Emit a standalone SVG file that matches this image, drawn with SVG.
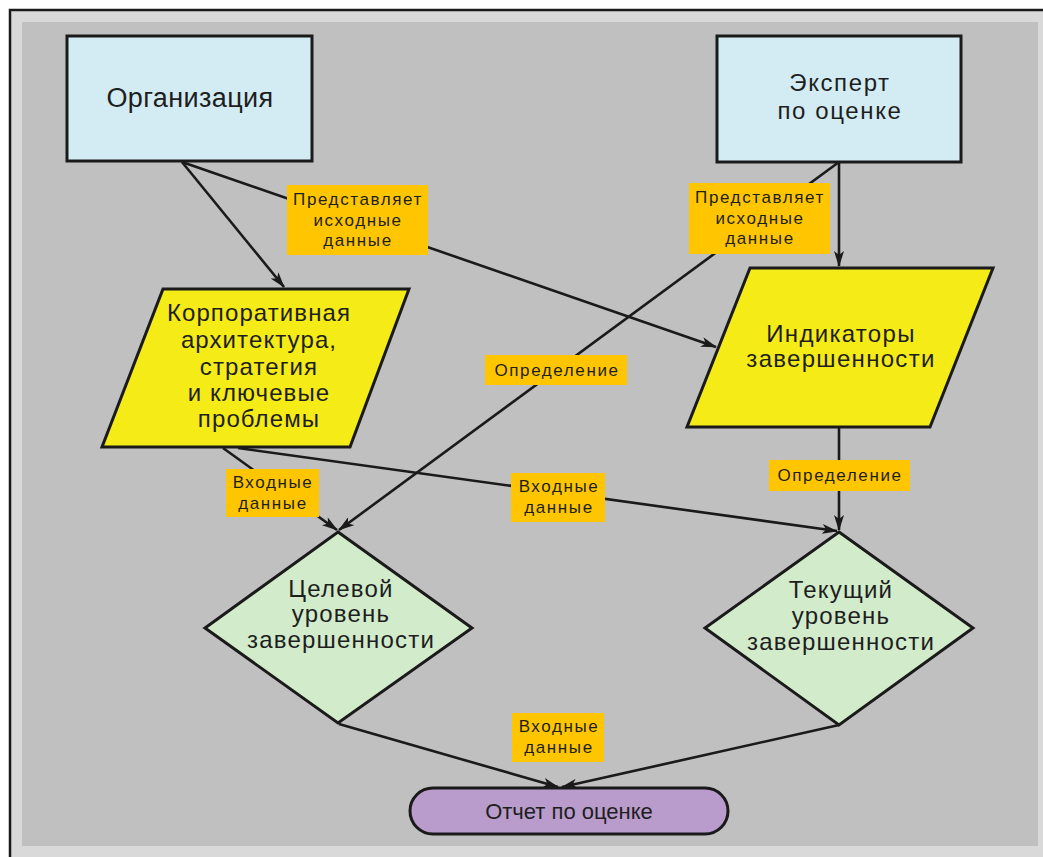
<svg xmlns="http://www.w3.org/2000/svg" width="1043" height="857" viewBox="0 0 1043 857">
<style>
.node{stroke:#1a1a1a;stroke-width:3}
.t{font-family:"Liberation Sans",Arial,sans-serif;fill:#1e1e1e;text-anchor:middle}
.big{font-size:24px;letter-spacing:1.6px}
.mid{font-size:24px;letter-spacing:1.2px}
.lbl{font-size:17px;letter-spacing:1.6px}
.tag{fill:#FFC600}
.c{fill:none;stroke:#1a1a1a;stroke-width:2.6}
</style>
<defs>
<marker id="ah" viewBox="0 0 16 10" refX="15" refY="5" markerWidth="16" markerHeight="10" markerUnits="userSpaceOnUse" orient="auto">
<path d="M0,0 L16,5 L0,10 L4,5 Z" fill="#1a1a1a"/>
</marker>
</defs>
<rect x="0" y="0" width="1043" height="857" fill="#ffffff"/>
<rect x="10" y="10" width="1033" height="847" fill="#d9d9d9"/>
<path d="M10,857 L10,10 L1043,10" fill="none" stroke="#1a1a1a" stroke-width="2.5"/>
<rect x="22" y="22" width="1016" height="824" fill="#c0c0c0"/>

<g id="connectors">
<line class="c" x1="182" y1="162" x2="284" y2="287" marker-end="url(#ah)"/>
<line class="c" x1="182" y1="162" x2="716" y2="347" marker-end="url(#ah)"/>
<line class="c" x1="839" y1="162" x2="839" y2="266" marker-end="url(#ah)"/>
<line class="c" x1="839" y1="162" x2="339" y2="530" marker-end="url(#ah)"/>
<line class="c" x1="839" y1="428" x2="839" y2="530" marker-end="url(#ah)"/>
<line class="c" x1="223" y1="448" x2="337" y2="530" marker-end="url(#ah)"/>
<line class="c" x1="238" y1="448" x2="837" y2="531" marker-end="url(#ah)"/>
<line class="c" x1="339" y1="724" x2="558" y2="787" marker-end="url(#ah)"/>
<line class="c" x1="839" y1="725" x2="562" y2="787" marker-end="url(#ah)"/>
</g>

<g id="n-org">
<rect class="node" x="67" y="36" width="245" height="125" fill="#D3ECF4"/>
<text class="t" style="font-size:27px;letter-spacing:0.4px" x="190" y="107">Организация</text>
</g>
<g id="n-expert">
<rect class="node" x="717" y="36" width="244" height="126" fill="#D3ECF4"/>
<text class="t big" x="840" y="91">Эксперт</text>
<text class="t big" x="840" y="119">по оценке</text>
</g>
<g id="n-corp">
<polygon class="node" points="163,289 409,289 350,447 102,447" fill="#F5EB17"/>
<text class="t mid" style="letter-spacing:1.1px" x="259" y="321">Корпоративная</text>
<text class="t mid" style="letter-spacing:1.1px" x="259" y="348">архитектура,</text>
<text class="t mid" style="letter-spacing:1.1px" x="259" y="375">стратегия</text>
<text class="t mid" style="letter-spacing:1.1px" x="259" y="401">и ключевые</text>
<text class="t mid" style="letter-spacing:1.1px" x="259" y="427">проблемы</text>
</g>
<g id="n-ind">
<polygon class="node" points="750,268 993,268 930,427 687,427" fill="#F5EB17"/>
<text class="t mid" style="letter-spacing:1.3px" x="841" y="342">Индикаторы</text>
<text class="t mid" style="letter-spacing:1.3px" x="841" y="367">завершенности</text>
</g>
<g id="n-target">
<polygon class="node" points="338,532 472,628 338,723 205,628" fill="#D2EBCB"/>
<text class="t mid" x="341" y="597">Целевой</text>
<text class="t mid" x="341" y="622">уровень</text>
<text class="t mid" x="341" y="648">завершенности</text>
</g>
<g id="n-current">
<polygon class="node" points="839,532 973,628 839,725 705,628" fill="#D2EBCB"/>
<text class="t mid" x="841" y="598">Текущий</text>
<text class="t mid" x="841" y="624">уровень</text>
<text class="t mid" x="841" y="650">завершенности</text>
</g>
<g id="n-report">
<rect class="node" x="410" y="788" width="318" height="46" rx="23" ry="23" fill="#B99CCC"/>
<text class="t" style="font-size:22px" x="569" y="819">Отчет по оценке</text>
</g>

<g id="labels">
<rect class="tag" x="287" y="185" width="141" height="70"/>
<text class="t lbl" x="358" y="205">Представляет</text>
<text class="t lbl" x="358" y="226">исходные</text>
<text class="t lbl" x="358" y="246">данные</text>
<rect class="tag" x="689" y="183" width="141" height="71"/>
<text class="t lbl" x="760" y="203">Представляет</text>
<text class="t lbl" x="760" y="224">исходные</text>
<text class="t lbl" x="760" y="244">данные</text>
<rect class="tag" x="485" y="355" width="142" height="30"/>
<text class="t lbl" x="557" y="376">Определение</text>
<rect class="tag" x="769" y="460" width="141" height="31"/>
<text class="t lbl" x="840" y="481">Определение</text>
<rect class="tag" x="226" y="469" width="93" height="48"/>
<text class="t lbl" x="273" y="488">Входные</text>
<text class="t lbl" x="273" y="509">данные</text>
<rect class="tag" x="511" y="473" width="94" height="49"/>
<text class="t lbl" x="559" y="492">Входные</text>
<text class="t lbl" x="559" y="513">данные</text>
<rect class="tag" x="512" y="713" width="92" height="49"/>
<text class="t lbl" x="559" y="732">Входные</text>
<text class="t lbl" x="559" y="753">данные</text>
</g>
</svg>
